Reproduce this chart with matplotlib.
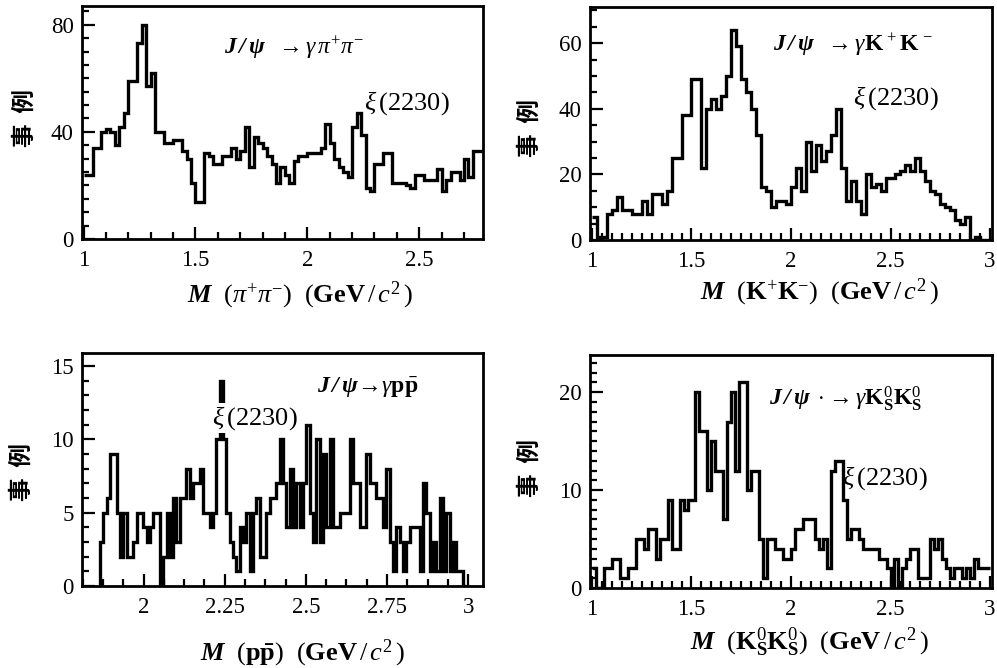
import numpy as np
import matplotlib
matplotlib.use("Agg")
import matplotlib.pyplot as plt
from matplotlib.ticker import MultipleLocator, FixedLocator, FixedFormatter

plt.rcParams['font.family'] = ['Liberation Serif', 'DejaVu Serif']
plt.rcParams['mathtext.fontset'] = 'custom'
plt.rcParams['mathtext.rm'] = 'Liberation Serif'
plt.rcParams['mathtext.it'] = 'Liberation Serif:italic'
plt.rcParams['mathtext.bf'] = 'Liberation Serif:bold'
plt.rcParams['mathtext.bfit'] = 'Liberation Serif:italic:bold'

# ---------------- data ----------------
# J/psi -> gamma pi+ pi-   (bins of 0.02 GeV from 1.00)
pipi_lo, pipi_hi = 1.00, 2.78
pipi_counts = [24, 24, 34, 34, 40, 41, 40, 35, 42, 47,
               59, 59, 73, 80, 57, 62, 40, 40, 36, 36,
               37, 37, 33, 30, 21, 14, 14, 32, 31, 28,
               28, 31, 31, 34, 30, 33, 42, 27, 38, 36,
               34, 31, 28, 21, 27, 24, 21, 29, 31, 31,
               32, 32, 32, 34, 43, 36, 30, 27, 25, 23,
               42, 47, 39, 19, 18, 28, 28, 32, 32, 21,
               21, 21, 20, 19, 24, 24, 22, 22, 22, 26,
               18, 22, 25, 25, 22, 30, 23, 33, 33]

# J/psi -> gamma K+ K-   (bins of 0.025 GeV from 1.00)
kk_lo, kk_hi = 1.00, 3.00
kk_counts = [7, 1, 1, 8, 9, 13, 9, 9, 8, 8,
             12, 8, 14, 14, 11, 15, 25, 25, 38, 38,
             49, 49, 22, 40, 43, 40, 44, 50, 64, 59,
             49, 45, 40, 32, 16, 15, 10, 12, 12, 11,
             16, 22, 15, 30, 21, 29, 24, 27, 32, 40,
             22, 12, 18, 12, 8, 20, 16, 17, 15, 19,
             19, 20, 21, 23, 21, 25, 21, 18, 15, 14,
             11, 10, 9, 6, 5, 7, 0, 1, 0, 0]

# J/psi -> gamma p pbar
pp_lo, pp_hi = 1.865, 2.995
pp_counts = [3, 5, 6, 9, 9, 5, 2, 5, 2, 2,
             3, 5, 5, 4, 3, 4, 5, 5, 0, 2,
             5, 2, 6, 3, 6, 6, 8, 6, 7, 7,
             8, 5, 5, 4, 5, 10, 14, 10, 5, 3,
             2, 1, 4, 3, 5, 1, 5, 6, 2, 2,
             5, 6, 6, 7, 10, 7, 4, 8, 4, 7,
             4, 7, 11, 5, 3, 10, 3, 9, 4, 10,
             4, 4, 5, 5, 5, 10, 7, 7, 4, 4,
             9, 7, 7, 6, 6, 4, 8, 3, 1, 4,
             3, 1, 3, 4, 4, 4, 1, 7, 5, 1,
             3, 1, 6, 1, 5, 1, 3, 1, 1, 0]

# J/psi -> gamma Ks Ks   (bins of 0.02 GeV from 1.00)
ks_lo, ks_hi = 1.00, 3.00
ks_counts = [2, 0, 0, 2, 2, 3, 3, 1, 1, 2,
             2, 5, 5, 4, 6, 6, 3, 5, 5, 9,
             4, 4, 9, 8, 9, 9, 20, 16, 16, 10,
             15, 12, 12, 7, 17, 20, 12, 21, 21, 10,
             12, 12, 5, 1, 5, 5, 4, 4, 3, 3,
             4, 6, 6, 7, 7, 7, 5, 4, 5, 2,
             12, 13, 13, 9, 5, 6, 6, 5, 4, 4,
             4, 4, 3, 3, 2, 0, 3, 0, 2, 3,
             4, 4, 1, 1, 1, 5, 4, 5, 3, 2,
             1, 2, 2, 1, 2, 1, 3, 2, 2, 2]

pipi_xticks = [1, 1.5, 2, 2.5]
pipi_xticklabels = ['1', '1.5', '2', '2.5']
pipi_yticks = [0, 40, 80]
kk_xticks = [1, 1.5, 2, 2.5, 3]
kk_xticklabels = ['1', '1.5', '2', '2.5', '3']
kk_yticks = [0, 20, 40, 60]
pp_xticks = [2, 2.25, 2.5, 2.75, 3]
pp_xticklabels = ['2', '2.25', '2.5', '2.75', '3']
pp_yticks = [0, 5, 10, 15]
ks_xticks = [1, 1.5, 2, 2.5, 3]
ks_xticklabels = ['1', '1.5', '2', '2.5', '3']
ks_yticks = [0, 10, 20]

ylabel_text = '事  例'
peak_label = r'$\xi\,(2230)$'

# ---------------- figure ----------------
fig = plt.figure(figsize=(9.97, 6.68), dpi=100)
W, H = 997.0, 668.0

def make_ax(left, top, right, bottom):
    return fig.add_axes([left / W, 1 - bottom / H, (right - left) / W, (bottom - top) / H])

def style(ax, xlim, ylim, xticks, xlabels, yticks, xminor, yminor):
    ax.set_xlim(*xlim)
    ax.set_ylim(*ylim)
    ax.xaxis.set_major_locator(FixedLocator(xticks))
    ax.xaxis.set_major_formatter(FixedFormatter(xlabels))
    ax.set_yticks(yticks)
    ax.xaxis.set_minor_locator(MultipleLocator(xminor))
    ax.yaxis.set_minor_locator(MultipleLocator(yminor))
    ax.tick_params(which='both', direction='in', top=False, right=False,
                   width=1.6, labelsize=16.5)
    ax.tick_params(which='major', length=9)
    ax.tick_params(which='minor', length=5)
    ax.tick_params(axis='x', pad=8)
    ax.tick_params(axis='y', pad=6)
    for s in ax.spines.values():
        s.set_linewidth(2.0)

def draw_hist(ax, counts, lo, hi, baseline=None):
    edges = np.linspace(lo, hi, len(counts) + 1)
    ax.stairs(counts, edges, color='black', linewidth=2.4, baseline=baseline)

TITLE_FS = 17
PEAK_FS = 19

# Panel 1
ax1 = make_ax(82, 6, 483, 239)
draw_hist(ax1, pipi_counts, pipi_lo, pipi_hi)
style(ax1, (0.993, 2.785), (0, 87), pipi_xticks, pipi_xticklabels, pipi_yticks, 0.1, 5)
ax1.text(0.355, 0.82, r'$\mathbfit{J\,/\,\psi}\ \ \rightarrow\gamma\,\pi^{+}\pi^{-}$',
         transform=ax1.transAxes, fontsize=TITLE_FS, ha='left', va='center')
ax1.text(0.703, 0.584, peak_label, transform=ax1.transAxes, fontsize=PEAK_FS,
         ha='left', va='center')

# Panel 2
ax2 = make_ax(590, 7, 992, 240)
draw_hist(ax2, kk_counts, kk_lo, kk_hi)
style(ax2, (0.99, 3.01), (0, 71), kk_xticks, kk_xticklabels, kk_yticks, 0.05, 5)
ax2.text(0.455, 0.837, r'$\mathbfit{J\,/\,\psi}\ \ \rightarrow\gamma\mathbf{K}^{\,+}\mathbf{K}^{\,-}$',
         transform=ax2.transAxes, fontsize=TITLE_FS, ha='left', va='center')
ax2.text(0.655, 0.609, peak_label, transform=ax2.transAxes, fontsize=PEAK_FS,
         ha='left', va='center')

# Panel 3
ax3 = make_ax(82, 353, 483, 586)
draw_hist(ax3, pp_counts, pp_lo, pp_hi, baseline=0)
style(ax3, (1.81, 3.046), (0, 15.9), pp_xticks, pp_xticklabels, pp_yticks, 0.0625, 1)
ax3.text(0.585, 0.85, r'$\mathbfit{J\,/\,\psi}\!\rightarrow\!\gamma\mathbf{p\bar{p}}$',
         transform=ax3.transAxes, fontsize=TITLE_FS, ha='left', va='center')
ax3.text(0.325, 0.721, peak_label, transform=ax3.transAxes, fontsize=PEAK_FS,
         ha='left', va='center',
         bbox=dict(facecolor='white', edgecolor='none', pad=0.5))

# Panel 4
ax4 = make_ax(590, 355, 992, 588)
draw_hist(ax4, ks_counts, ks_lo, ks_hi)
style(ax4, (0.99, 3.01), (0, 23.8), ks_xticks, ks_xticklabels, ks_yticks, 0.05, 1)
ax4.text(0.445, 0.815,
         r'$\mathbfit{J\,/\,\psi}\ \cdot\!\rightarrow\gamma\mathbf{K}_{\mathbf{S}}^{0}\mathbf{K}_{\mathbf{S}}^{0}$',
         transform=ax4.transAxes, fontsize=TITLE_FS, ha='left', va='center')
ax4.text(0.627, 0.472, peak_label, transform=ax4.transAxes, fontsize=PEAK_FS,
         ha='left', va='center')

# x labels
XL_FS = 19
fig.text(300 / W, 1 - 295 / H,
         r'$\mathbfit{M}\ \ (\pi^{+}\pi^{-})\ \ (\mathbf{GeV}\,/\,\mathit{c}^{2}\,)$',
         fontsize=XL_FS, ha='center', va='center')
fig.text(820 / W, 1 - 292 / H,
         r'$\mathbfit{M}\ \ (\mathbf{K}^{+}\mathbf{K}^{-})\ \ (\mathbf{GeV}\,/\,\mathit{c}^{2}\,)$',
         fontsize=XL_FS, ha='center', va='center')
fig.text(303 / W, 1 - 653 / H,
         r'$\mathbfit{M}\ \ (\mathbf{p\bar{p}})\ \ (\mathbf{GeV}\,/\,\mathit{c}^{2}\,)$',
         fontsize=XL_FS, ha='center', va='center')
fig.text(809 / W, 1 - 642 / H,
         r'$\mathbfit{M}\ \ (\mathbf{K}_{\mathbf{S}}^{0}\mathbf{K}_{\mathbf{S}}^{0})\ \ (\mathbf{GeV}\,/\,\mathit{c}^{2}\,)$',
         fontsize=XL_FS, ha='center', va='center')

# y labels (事例 = events)
for (xp, yp) in [(25, 118), (530, 128), (22, 472), (530, 468)]:
    fig.text(xp / W, 1 - yp / H, ylabel_text, rotation=90, fontsize=17,
             family=['Noto Sans CJK SC', 'DejaVu Sans'], fontweight='bold',
             ha='center', va='center')

fig.savefig('out.png', dpi=100, facecolor='white')
